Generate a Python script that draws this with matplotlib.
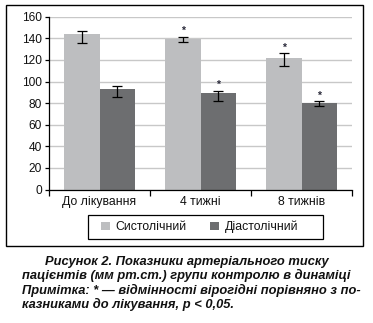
import numpy as np
import matplotlib.pyplot as plt
from matplotlib.patches import Rectangle

plt.rcParams['font.family'] = ['Liberation Sans', 'DejaVu Sans']

categories = ['До лікування', '4 тижні', '8 тижнів']
series_names = ['Систолічний', 'Діастолічний']
systolic = [144, 139, 122]
systolic_err_low = [8, 2, 7.5]
systolic_err_high = [3, 2.5, 4]
diastolic = [93, 89, 80]
diastolic_err_low = [7.5, 7.5, 3]
diastolic_err_high = [3, 2.5, 1.5]
systolic_sig = [False, True, True]
diastolic_sig = [False, True, True]

colors = ['#bdbec0', '#6d6e70']

fig = plt.figure(figsize=(3.73, 3.23), dpi=100)
ax = fig.add_axes([49 / 373, 1 - 189.5 / 323, 303 / 373, 172.8 / 323])

x = np.arange(len(categories))
w = 0.356
series = [
    (systolic, systolic_err_low, systolic_err_high, systolic_sig, -w / 2),
    (diastolic, diastolic_err_low, diastolic_err_high, diastolic_sig, w / 2),
]
for (vals, lo, hi, sig, off), col, name in zip(series, colors, series_names):
    ax.bar(x + off, vals, width=w, color=col, label=name, zorder=2)
    ax.errorbar(x + off, vals, yerr=[lo, hi], fmt='none', ecolor='black',
                elinewidth=0.9, capsize=3.6, capthick=0.9, zorder=3)
    for xi, v, h, s in zip(x + off, vals, hi, sig):
        if s:
            ax.text(xi, v + h + 5, '*', ha='center', va='center',
                    fontsize=7.5, fontweight='bold', color='#2a2a3a', zorder=4)

ax.set_xlim(-0.5, 2.5)
ax.set_ylim(0, 160)
ax.set_yticks(np.arange(0, 161, 20))
ax.yaxis.grid(True, color='#c8c8c8', linewidth=1.0, zorder=0)
ax.set_axisbelow(True)
ax.set_xticks([-0.5, 0.5, 1.5, 2.5])
ax.set_xticklabels([])
ax.set_xticks(x, minor=True)
ax.set_xticklabels(categories, minor=True)
ax.tick_params(axis='x', which='minor', length=0, labelsize=8.8, pad=5, colors='#111111')
ax.tick_params(axis='x', which='major', length=4, width=0.9, direction='out')
ax.tick_params(axis='y', length=3, width=0.9, labelsize=8.6, pad=2, labelcolor='#111111')
for s in ['top', 'right']:
    ax.spines[s].set_visible(False)
for s in ['left', 'bottom']:
    ax.spines[s].set_linewidth(0.9)

# legend content without its own frame, box drawn separately
leg = fig.legend(loc='center left', bbox_to_anchor=(101 / 373, 1 - 227 / 323),
                 ncol=2, fontsize=8.8, frameon=False,
                 handlelength=0.75, handleheight=0.75, columnspacing=1.9,
                 handletextpad=0.45, borderpad=0, borderaxespad=0)
for t in leg.get_texts():
    t.set_color('#111111')
fig.patches.append(Rectangle((88 / 373, 1 - 239 / 323), 235 / 373, 24 / 323,
                             transform=fig.transFigure, fill=False,
                             edgecolor='black', linewidth=0.9))

fig.patches.append(Rectangle((5.5 / 373, 1 - 246 / 323), 357.5 / 373, 241 / 323,
                             transform=fig.transFigure, fill=False,
                             edgecolor='black', linewidth=1.0))

cap_style = dict(fontsize=9.3, fontweight='bold', fontstyle='italic', color='#111111')
fig.text(0.5, 1 - 262 / 323, 'Рисунок 2. Показники артеріального тиску',
         ha='center', va='center', **cap_style)
fig.text(0.5, 1 - 275 / 323, 'пацієнтів (мм рт.ст.) групи контролю в динаміці',
         ha='center', va='center', **cap_style)
fig.text(22 / 373, 1 - 290 / 323, 'Примітка: * — відмінності вірогідні порівняно з по-',
         ha='left', va='center', **cap_style)
fig.text(22 / 373, 1 - 304 / 323, 'казниками до лікування, p < 0,05.',
         ha='left', va='center', **cap_style)

fig.savefig('out.png', dpi=100)
